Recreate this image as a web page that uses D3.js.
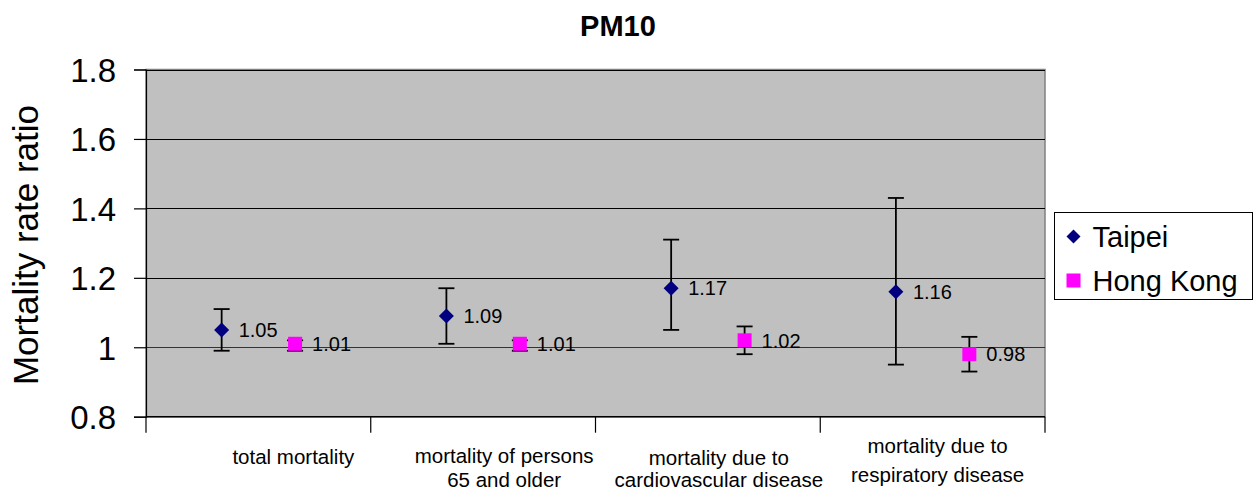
<!DOCTYPE html>
<html>
<head>
<meta charset="utf-8">
<script src="https://cdn.jsdelivr.net/npm/d3@7"></script>
<style>
  body { margin: 0; background: #fff; }
  text { font-family: "Liberation Sans", Arial, sans-serif; fill: #000; }
</style>
</head>
<body>
<div id="chart"></div>
<script>
// 類別與數據
const categories = [
  ["total mortality"],
  ["mortality of persons", "65 and older"],
  ["mortality due to", "cardiovascular disease"],
  ["mortality due to", "respiratory disease"]
];
const seriesNames = ["Taipei", "Hong Kong"];
const taipeiValues = [1.05, 1.09, 1.17, 1.16];
const taipeiLow    = [0.99, 1.01, 1.05, 0.95];
const taipeiHigh   = [1.11, 1.17, 1.31, 1.43];
const hkValues = [1.01, 1.01, 1.02, 0.98];
const hkLow    = [0.99, 0.99, 0.98, 0.93];
const hkHigh   = [1.02, 1.02, 1.06, 1.03];
const yTicks = [0.8, 1, 1.2, 1.4, 1.6, 1.8];

function drawChart(containerSelector) {
  const W = 1259, H = 491;
  const plot = {left: 146, top: 69.5, right: 1045, bottom: 416.7};

  const svg = d3.select(containerSelector).append("svg")
      .attr("width", W)
      .attr("height", H)
      .style("display", "block");

  const x = d3.scaleBand()
      .domain(d3.range(categories.length))
      .range([plot.left, plot.right])
      .paddingInner(0).paddingOuter(0);

  const xSub = d3.scalePoint()
      .domain(seriesNames)
      .range([0, x.bandwidth()])
      .padding(1.03);

  const y = d3.scaleLinear()
      .domain([0.8, 1.8])
      .range([plot.bottom, plot.top]);

  // 繪圖區背景
  svg.append("rect")
      .attr("x", plot.left)
      .attr("y", plot.top)
      .attr("width", plot.right - plot.left)
      .attr("height", plot.bottom - plot.top)
      .attr("fill", "#c0c0c0")
      .attr("stroke", "#808080")
      .attr("stroke-width", 1.5);

  // 格線
  svg.append("g")
      .selectAll("line")
      .data(yTicks.filter(d => d > 0.8))
      .join("line")
      .attr("x1", plot.left)
      .attr("x2", plot.right)
      .attr("y1", d => Math.round(y(d)) + 0.5)
      .attr("y2", d => Math.round(y(d)) + 0.5)
      .attr("stroke", d => d === 1 ? "#333" : "#000")
      .attr("stroke-width", 1.2);

  // Y 軸
  const yAxis = svg.append("g")
      .attr("transform", `translate(${plot.left},0)`)
      .call(d3.axisLeft(y).tickValues(yTicks).tickSize(12).tickPadding(18)
          .tickFormat(d => d === 1 ? "1" : d3.format(".1f")(d)));
  yAxis.select(".domain").attr("stroke", "#000").attr("stroke-width", 1.2);
  yAxis.selectAll(".tick line").attr("stroke", "#000").attr("stroke-width", 1.2);
  yAxis.selectAll(".tick text")
      .style("font-size", "33px")
      .attr("dy", "0.36em");

  // X 軸
  const xTicks = d3.range(categories.length + 1).map(i => plot.left + i * x.bandwidth());
  svg.append("line")
      .attr("x1", plot.left).attr("x2", plot.right)
      .attr("y1", plot.bottom).attr("y2", plot.bottom)
      .attr("stroke", "#000").attr("stroke-width", 1.5);
  svg.append("g")
      .selectAll("line")
      .data(xTicks)
      .join("line")
      .attr("x1", d => d).attr("x2", d => d)
      .attr("y1", plot.bottom).attr("y2", plot.bottom + 16)
      .attr("stroke", "#000").attr("stroke-width", 1.2);

  // 類別標籤（位置微調）
  const labelShift = [
    {dx: 35, y: 464, lh: 24},
    {dx: 21, y: 463, lh: 24},
    {dx: 11, y: 465, lh: 22},
    {dx: 5,  y: 453, lh: 29}
  ];
  const catLabels = svg.append("g")
      .selectAll("text")
      .data(categories)
      .join("text")
      .attr("text-anchor", "middle")
      .style("font-size", "20.5px")
      .attr("transform", (d, i) =>
          `translate(${x(i) + x.bandwidth() / 2 + labelShift[i].dx},${labelShift[i].y})`);
  catLabels.selectAll("tspan")
      .data((d, i) => d.map(line => ({line, lh: labelShift[i].lh})))
      .join("tspan")
      .attr("x", 0)
      .attr("y", (d, j) => j * d.lh)
      .text(d => d.line);

  // 數列資料
  const series = [
    {name: "Taipei", values: taipeiValues, low: taipeiLow, high: taipeiHigh, color: "#000080", shape: "diamond"},
    {name: "Hong Kong", values: hkValues, low: hkLow, high: hkHigh, color: "#ff00ff", shape: "square"}
  ];

  function marker(g, shape, color, size) {
    if (shape === "diamond") {
      const s = size / 2;
      g.append("path")
          .attr("d", `M0,${-s}L${s},0L0,${s}L${-s},0Z`)
          .attr("fill", color);
    } else {
      g.append("rect")
          .attr("x", -size / 2).attr("y", -size / 2)
          .attr("width", size).attr("height", size)
          .attr("fill", color);
    }
  }

  series.forEach(s => {
    const g = svg.append("g");
    s.values.forEach((v, i) => {
      const cx = x(i) + xSub(s.name);
      // 誤差線
      g.append("line")
          .attr("x1", cx).attr("x2", cx)
          .attr("y1", y(s.low[i])).attr("y2", y(s.high[i]))
          .attr("stroke", "#000").attr("stroke-width", 1.8);
      [s.low[i], s.high[i]].forEach(e => {
        g.append("line")
            .attr("x1", cx - 8).attr("x2", cx + 8)
            .attr("y1", y(e)).attr("y2", y(e))
            .attr("stroke", "#000").attr("stroke-width", 1.8);
      });
      const m = g.append("g").attr("transform", `translate(${cx},${y(v)})`);
      marker(m, s.shape, s.color, s.shape === "diamond" ? 15 : 14);
      g.append("text")
          .attr("x", cx + 17)
          .attr("y", y(v))
          .attr("dy", "0.36em")
          .style("font-size", "20px")
          .text(d3.format(".2f")(v));
    });
  });

  // 標題
  svg.append("text")
      .attr("x", 618)
      .attr("y", 36)
      .attr("text-anchor", "middle")
      .style("font-size", "29px")
      .style("font-weight", "bold")
      .text("PM10");

  // Y 軸標題
  svg.append("text")
      .attr("transform", "rotate(-90)")
      .attr("x", -245)
      .attr("y", 38)
      .attr("text-anchor", "middle")
      .style("font-size", "35px")
      .text("Mortality rate ratio");

  // 圖例
  const legend = svg.append("g").attr("transform", "translate(1054.5,212.5)");
  legend.append("rect")
      .attr("width", 198).attr("height", 87)
      .attr("fill", "#fff")
      .attr("stroke", "#000").attr("stroke-width", 1);
  series.forEach((s, i) => {
    const row = legend.append("g").attr("transform", `translate(19,${24 + i * 44})`);
    marker(row, s.shape, s.color, 14);
    row.append("text")
        .attr("x", 19)
        .attr("y", 0)
        .attr("dy", "0.36em")
        .style("font-size", "29px")
        .text(s.name);
  });
}

drawChart("#chart");
</script>
</body>
</html>
